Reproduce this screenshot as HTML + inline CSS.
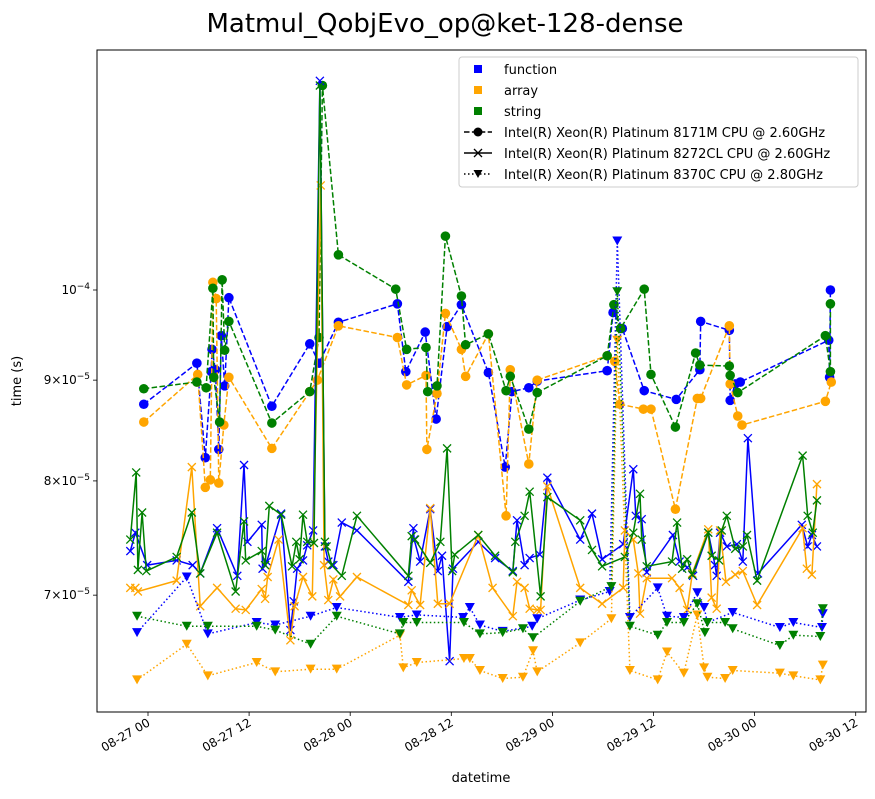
<!DOCTYPE html>
<html><head><meta charset="utf-8"><style>
body{margin:0;background:#fff;font-family:"Liberation Sans","DejaVu Sans",sans-serif;}
svg text{font-family:"DejaVu Sans","Liberation Sans",sans-serif;}
</style></head><body>
<svg id="chart" width="875" height="794" xmlns="http://www.w3.org/2000/svg">
<text x="445" y="32" font-size="26" text-anchor="middle">Matmul_QobjEvo_op@ket-128-dense</text>
<g id="plot"></g>
<rect x="97" y="50" width="769" height="662" fill="none" stroke="#000" stroke-width="1"/>
<g id="axes"></g>
<text x="21" y="381" font-size="13" text-anchor="middle" transform="rotate(-90 21 381)">time (s)</text>
<text x="481" y="782" font-size="13" text-anchor="middle">datetime</text>
<g>
<rect x="459" y="57" width="399" height="130" rx="3" fill="#fff" fill-opacity="0.85" stroke="#ccc"/>
<g><rect x="474" y="65" width="8" height="8" fill="blue"/><text x="504" y="74" font-size="13">function</text></g>
<g><rect x="474" y="86" width="8" height="8" fill="orange"/><text x="504" y="95" font-size="13">array</text></g>
<g><rect x="474" y="107" width="8" height="8" fill="green"/><text x="504" y="116" font-size="13">string</text></g>
<g><line x1="464" y1="132" x2="492" y2="132" stroke="#000" stroke-width="1.5" stroke-dasharray="5.5,2.4"/><circle cx="478" cy="132" r="4.5"/><text x="504" y="137" font-size="13">Intel(R) Xeon(R) Platinum 8171M CPU @ 2.60GHz</text></g>
<g><line x1="464" y1="153" x2="492" y2="153" stroke="#000" stroke-width="1.5"/><path d="M474,149L482,157M482,149L474,157" stroke="#000" stroke-width="1.3"/><text x="504" y="158" font-size="13">Intel(R) Xeon(R) Platinum 8272CL CPU @ 2.60GHz</text></g>
<g><line x1="464" y1="174" x2="492" y2="174" stroke="#000" stroke-width="1.5" stroke-dasharray="1.5,2.5"/><path d="M473.5,170L482.5,170L478,178Z"/><text x="504" y="179" font-size="13">Intel(R) Xeon(R) Platinum 8370C CPU @ 2.80GHz</text></g>
</g>
</svg>
<script>
// hours since 08-27 00:00 ; values in units of 1e-5 s
const fnA_h=[-0.5,5.8,6.8,7.5,7.6,8.0,8.4,8.7,9.1,9.6,14.7,19.2,20.3,22.6,29.6,30.6,32.9,34.2,35.5,37.2,40.4,42.4,43.2,45.2,46.2,54.5,55.2,56.3,58.9,62.7,65.5,65.6,69.0,69.1,69.7,70.3,80.8,80.9,81.0];
const fnA_v=[8.75,9.18,8.22,9.09,9.33,9.11,8.30,9.48,8.94,9.91,8.73,9.39,9.18,9.63,9.84,9.09,9.52,8.60,9.58,9.83,9.08,8.13,8.88,8.92,8.99,9.10,9.74,9.56,8.89,8.80,9.11,9.64,9.54,8.79,8.96,8.98,9.43,9.03,10.0];
const arA_h=[-0.5,5.9,6.8,7.4,7.7,8.1,8.4,9.0,9.6,14.7,19.2,20.1,22.6,29.6,30.7,33.0,33.1,34.3,35.3,37.2,37.7,40.4,42.5,43.0,45.2,46.2,54.5,55.4,56.0,58.8,59.7,62.6,65.2,65.6,69.0,69.1,70.0,70.5,80.4,81.1];
const arA_v=[8.57,9.06,7.94,8.01,10.09,9.90,7.98,8.54,9.03,8.31,8.88,9.00,9.59,9.46,8.95,9.05,8.30,8.86,9.73,9.33,9.04,9.50,7.68,9.11,8.16,9.00,9.26,9.20,8.75,8.70,8.70,7.74,8.81,8.81,9.59,8.96,8.63,8.54,8.78,8.98];
const stA_h=[-0.5,5.8,6.9,7.7,7.8,8.5,8.8,9.1,9.6,14.7,19.2,20.3,20.7,22.6,29.4,30.7,33.0,33.2,34.3,35.3,37.2,37.7,40.4,42.5,43.0,45.2,46.2,54.5,55.3,56.1,58.9,59.7,62.6,65.0,65.5,69.0,69.1,70.0,80.4,81.0,81.0];
const stA_v=[8.91,8.98,8.92,10.02,9.03,8.57,10.12,9.32,9.64,8.56,8.88,9.46,12.7,10.42,10.01,9.33,9.35,8.88,8.94,10.65,9.93,9.38,9.50,8.89,9.04,8.50,8.87,9.26,9.83,9.56,10.01,9.06,8.52,9.29,9.16,9.15,9.05,8.87,9.48,9.09,9.84];
const fnB_h=[-2.1,-1.5,-0.1,3.4,5.3,6.2,8.2,10.6,11.4,11.8,13.5,13.6,14.1,15.8,16.9,17.3,17.7,18.4,18.9,19.6,20.4,21.0,21.4,22.0,23.0,24.8,30.9,31.5,31.6,32.3,33.5,34.4,34.9,35.8,36.2,39.2,41.2,43.3,43.8,44.7,45.3,46.5,47.4,51.3,52.7,53.9,56.4,57.6,57.9,58.6,59.2,62.3,63.1,64.0,64.7,66.5,67.3,67.5,67.9,68.7,69.9,70.6,71.2,72.4,77.6,78.3,78.8,79.4];
const fnB_v=[7.37,7.53,7.25,7.29,7.25,7.18,7.57,7.16,8.15,7.45,7.60,7.22,7.28,7.70,6.72,6.95,7.22,7.29,7.42,7.55,12.77,7.41,7.28,7.25,7.62,7.55,7.11,7.57,7.47,7.28,7.74,7.20,7.33,6.48,7.22,7.45,7.31,7.20,7.64,7.25,7.31,7.34,8.03,7.47,7.70,7.30,7.43,8.11,7.68,7.65,7.19,7.51,7.28,7.23,7.16,7.53,7.25,7.16,7.53,7.41,7.43,7.28,8.41,7.18,7.60,7.41,7.51,7.41];
const arB_h=[-2.1,-1.5,-1.2,3.4,5.2,6.2,8.2,10.4,11.6,13.5,13.9,14.2,15.5,16.9,17.4,18.4,19.5,20.5,20.9,21.4,22.0,22.8,24.8,30.9,31.3,32.3,33.5,34.4,35.8,39.2,40.9,43.3,43.8,44.7,45.3,46.2,46.6,47.4,51.3,53.9,56.4,56.6,57.6,58.2,58.4,59.2,62.2,63.1,64.0,64.6,66.5,66.9,67.5,67.9,68.6,69.7,70.6,72.3,77.7,78.2,78.8,79.4];
const arB_v=[7.06,7.06,7.03,7.12,8.13,6.91,7.06,6.89,6.88,7.05,6.97,7.15,7.47,6.64,6.91,7.15,6.99,11.30,7.25,6.96,7.13,6.99,7.15,6.92,7.04,6.92,7.75,6.93,6.93,7.51,7.06,6.83,7.11,7.06,6.89,6.88,6.88,7.95,7.06,6.93,7.06,7.55,7.47,7.18,6.85,7.14,7.14,7.06,6.88,7.18,7.56,6.98,6.89,7.55,7.11,7.17,7.20,6.92,7.57,7.22,7.17,7.97];
const stB_h=[-2.1,-1.4,-1.2,-0.7,-0.2,3.4,5.2,6.2,8.2,10.4,11.4,11.6,13.5,13.9,14.4,15.8,17.1,17.6,18.0,18.4,18.9,19.7,20.4,21.0,21.2,21.8,23.0,24.8,30.9,31.3,31.7,33.5,34.7,35.5,36.1,36.4,39.2,41.2,43.3,43.6,44.7,45.3,46.6,47.4,51.3,52.7,53.9,56.6,57.6,58.4,58.6,59.2,62.2,62.8,63.4,64.0,64.6,66.5,66.9,67.8,68.1,68.7,69.7,70.6,71.1,72.3,77.7,78.3,78.9,79.4];
const stB_v=[7.47,8.08,7.21,7.71,7.20,7.32,7.71,7.18,7.53,7.03,7.63,7.29,7.37,7.25,7.77,7.69,7.24,7.45,7.30,7.69,7.45,7.44,12.7,7.45,7.41,7.25,7.16,7.68,7.16,7.50,7.47,7.27,7.45,8.31,7.20,7.34,7.51,7.33,7.19,7.45,7.68,7.90,6.99,7.85,7.64,7.38,7.24,7.32,7.53,7.88,7.47,7.24,7.28,7.62,7.22,7.30,7.17,7.53,7.33,7.29,7.55,7.68,7.39,7.41,7.51,7.12,8.24,7.68,7.53,7.82];
const fnC_h=[-1.3,4.6,7.1,12.9,15.1,19.3,22.4,29.9,31.9,37.4,38.2,39.4,42.1,45.6,46.2,51.3,54.8,55.7,57.2,60.5,61.6,63.6,65.2,66.0,66.4,69.4,75.0,76.6,80.0,80.1];
const fnC_v=[6.70,7.15,6.69,6.78,6.76,6.83,6.90,6.82,6.84,6.82,6.90,6.76,6.71,6.75,6.81,6.96,7.03,10.59,6.82,7.06,6.83,6.82,7.02,6.90,6.78,6.86,6.74,6.78,6.74,6.85];
const arC_h=[-1.3,4.6,7.1,12.9,15.1,19.3,22.4,29.9,30.3,31.9,37.5,38.2,39.4,42.1,44.5,45.7,46.2,51.3,55.0,55.7,57.2,60.5,61.6,63.6,65.2,66.0,66.4,68.5,69.4,75.0,76.6,79.8,80.1];
const arC_v=[6.34,6.61,6.37,6.47,6.40,6.42,6.42,6.68,6.43,6.47,6.50,6.50,6.41,6.35,6.36,6.56,6.40,6.62,6.81,9.43,6.41,6.34,6.55,6.39,6.84,6.43,6.36,6.35,6.41,6.39,6.37,6.34,6.45];
const stC_h=[-1.3,4.6,7.1,12.9,15.1,19.3,22.4,29.9,30.3,31.9,37.5,39.4,42.1,44.5,45.7,51.3,55.0,55.7,57.2,60.5,61.6,63.6,65.2,66.1,66.4,68.5,69.4,75.0,76.6,79.8,80.1];
const stC_v=[6.83,6.75,6.75,6.75,6.72,6.61,6.83,6.69,6.78,6.78,6.78,6.69,6.70,6.73,6.66,6.95,7.07,9.98,6.75,6.68,6.78,6.78,6.93,6.70,6.78,6.78,6.73,6.60,6.68,6.67,6.89];
const xTickHours=[0,12,24,36,48,60,72,84];
const xTickLabels=["08-27 00","08-27 12","08-28 00","08-28 12","08-29 00","08-29 12","08-30 00","08-30 12"];
const yTickVals=[10,9,8,7];
const yTickMant=["","9","8","7"];
const yTickExp=["−4","−5","−5","−5"];

const NS="http://www.w3.org/2000/svg";
function xs(h){return 148+h*8.425;}
function ys(v){return 290-1970*Math.log10(v/10);}
const plot=document.getElementById('plot');
const axes=document.getElementById('axes');
function mk(tag,attrs,parent){const e=document.createElementNS(NS,tag);for(const k in attrs)e.setAttribute(k,attrs[k]);parent.appendChild(e);return e;}

const series=[
 {h:fnA_h,v:fnA_v,c:'blue',m:'o',d:'5.5,2.4',n:'function-8171m'},
 {h:arA_h,v:arA_v,c:'orange',m:'o',d:'5.5,2.4',n:'array-8171m'},
 {h:stA_h,v:stA_v,c:'green',m:'o',d:'5.5,2.4',n:'string-8171m'},
 {h:fnB_h,v:fnB_v,c:'blue',m:'x',d:'',n:'function-8272cl'},
 {h:arB_h,v:arB_v,c:'orange',m:'x',d:'',n:'array-8272cl'},
 {h:stB_h,v:stB_v,c:'green',m:'x',d:'',n:'string-8272cl'},
 {h:fnC_h,v:fnC_v,c:'blue',m:'v',d:'1.5,2.5',n:'function-8370c'},
 {h:arC_h,v:arC_v,c:'orange',m:'v',d:'1.5,2.5',n:'array-8370c'},
 {h:stC_h,v:stC_v,c:'green',m:'v',d:'1.5,2.5',n:'string-8370c'}
];
const clip=mk('clipPath',{id:'pc'},plot);mk('rect',{x:97,y:50,width:769,height:662},clip);
series.forEach(s=>{
  const g=mk('g',{'clip-path':'url(#pc)'},plot);
  
  
  const pts=s.h.map((h,i)=>xs(h).toFixed(1)+','+ys(s.v[i]).toFixed(1)).join(' ');
  const pl=mk('polyline',{points:pts,fill:'none',stroke:s.c,'stroke-width':1.5},g);
  if(s.d)pl.setAttribute('stroke-dasharray',s.d);
  
  
  s.h.forEach((h,i)=>{
    const x=xs(h),y=ys(s.v[i]);let e;
    if(s.m==='o')e=mk('circle',{cx:x,cy:y,r:4.8,fill:s.c},g);
    else if(s.m==='x')e=mk('path',{d:`M${x-4},${y-4}L${x+4},${y+4}M${x+4},${y-4}L${x-4},${y+4}`,stroke:s.c,'stroke-width':1.3,fill:'none'},g);
    else e=mk('path',{d:`M${x-5},${y-4.5}L${x+5},${y-4.5}L${x},${y+4.5}Z`,fill:s.c},g);
    
    
  });
});
xTickHours.forEach((h,i)=>{
  const x=xs(h);
  const t=mk('line',{x1:x,y1:712,x2:x,y2:716,stroke:'#000','stroke-width':0.8},axes);
  
  
  const tx=mk('text',{x:x+3,y:725,'font-size':12,'text-anchor':'end',transform:`rotate(-30 ${x+3} 725)`},axes);
  tx.textContent=xTickLabels[i];
  
  
});
yTickVals.forEach((v,i)=>{
  const y=ys(v);
  const t=mk('line',{x1:93,y1:y,x2:97,y2:y,stroke:'#000','stroke-width':0.8},axes);
  
  
  const tx=mk('text',{x:90,y:y+4,'font-size':12,'text-anchor':'end'},axes);
  
  
  const base=(yTickMant[i]?yTickMant[i]+'×':'')+'10';
  const t1=mk('tspan',{},tx);t1.textContent=base;
  const t2=mk('tspan',{dy:-5,'font-size':9},tx);t2.textContent=yTickExp[i];
});
</script>
</body></html>
